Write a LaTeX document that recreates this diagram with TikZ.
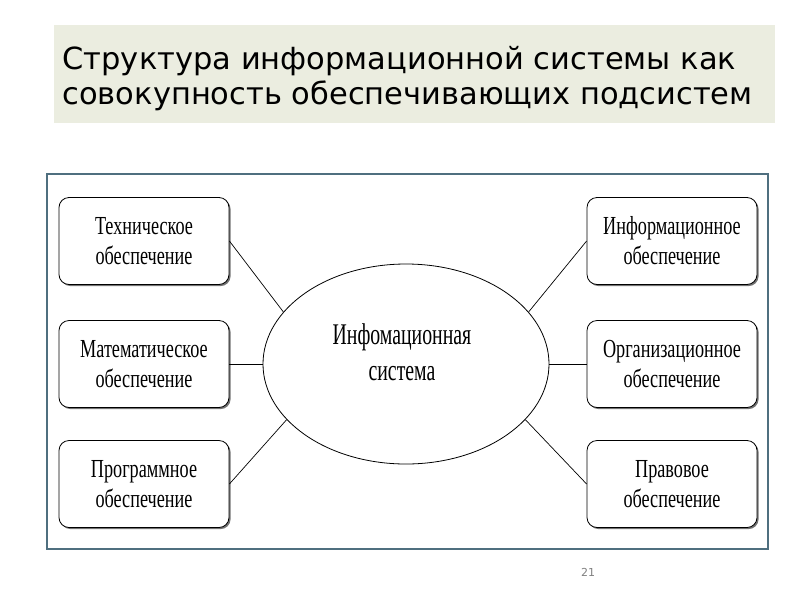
\documentclass[tikz,border=0pt]{standalone}
\usepackage
{
	fontspec,
	tikz
}
\usetikzlibrary{shapes.geometric,shadows}
\setmainfont{DejaVu Sans}
\newfontfamily\boxfont[FakeStretch=0.70]{Liberation Serif}
\newfontfamily\ellfont[FakeStretch=0.66]{Liberation Serif}
\definecolor{titlebg}{HTML}{EBEDE0}
\definecolor{framecol}{HTML}{4F6F7F}
\tikzset{
	subsys/.style={draw, rectangle, rounded corners=10pt, fill=white,
		minimum width=170pt, minimum height=87pt, line width=0.8pt, align=center,
		font=\boxfont\fontsize{26}{30}\selectfont,
		drop shadow={shadow xshift=1.6pt, shadow yshift=-1.6pt, fill=black!55, opacity=1}},
	link/.style={draw, line width=0.7pt}
}
\begin{document}
\begin{tikzpicture}[x=1pt, y=-1pt]
{
	\useasboundingbox (0,0) rectangle (800,600);
	% heading
	\fill[titlebg] (54,25) rectangle (775,123);
	\node[anchor=west, align=left, font=\fontsize{30.5}{35}\selectfont] (Title) at (59,79)
		{Структура информационной системы как\\совокупность обеспечивающих подсистем};
	\draw[framecol, line width=1.2pt] (47,174) rectangle (768,549);
	% centre
	\node[draw, ellipse, line width=0.8pt, minimum width=286pt, minimum height=200pt, inner sep=0pt] (IS) at (406,364) {};
	\node[font=\ellfont\fontsize{30}{36}\selectfont, align=center] (ISText) at (402,352)
		{Инфомационная\\система};
	% left column
	\node[subsys] (Tech) at (144,241) {Техническое\\обеспечение};
	\node[subsys] (Math) at (144,364) {Математическое\\обеспечение};
	\node[subsys] (Prog) at (144,484) {Программное\\обеспечение};
	% right column
	\node[subsys] (Info) at (672,241) {Информационное\\обеспечение};
	\node[subsys] (Org) at (672,364) {Организационное\\обеспечение};
	\node[subsys] (Law) at (672,484) {Правовое\\обеспечение};
	\draw[link] (Tech.east) -- (IS.157);
	\draw[link] (Math.east) -- (IS.west);
	\draw[link] (Prog.east) -- (IS.205);
	\draw[link] (Info.west) -- (IS.23);
	\draw[link] (Org.west) -- (IS.east);
	\draw[link] (Law.west) -- (IS.-25);
	\node[gray, font=\fontsize{11}{13}\selectfont] (PageNo) at (588,572) {21};
}
\end{tikzpicture}
\end{document}
